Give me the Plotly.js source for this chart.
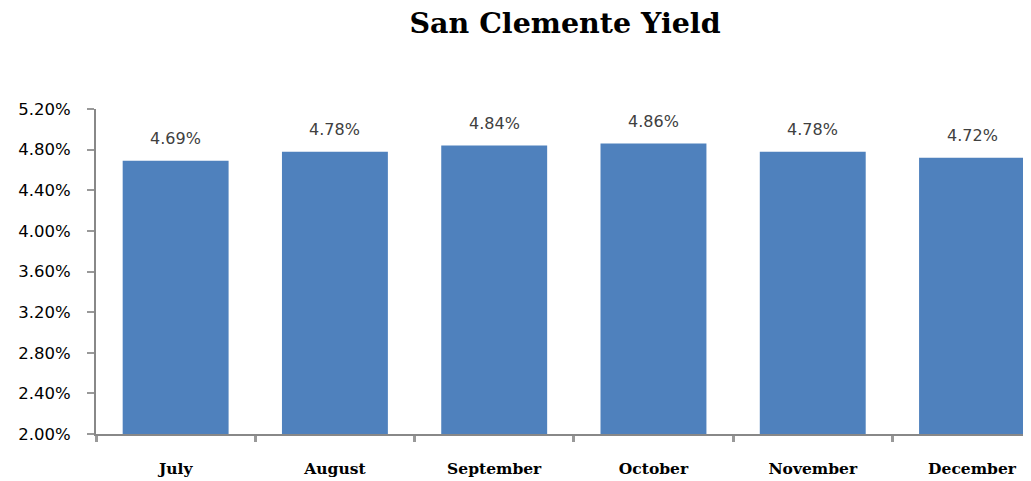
<!DOCTYPE html>
<html>
<head>
<meta charset="utf-8">
<script src="https://cdn.plot.ly/plotly-3.0.1.min.js"></script>
<style>html,body{margin:0;padding:0;background:#fff;}#chart{width:1031px;height:481px;}</style>
</head>
<body>
<div id="chart"></div>
<script>
const months = ["July", "August", "September", "October", "November", "December"];
const yieldPct = [4.69, 4.78, 4.84, 4.86, 4.78, 4.72];
const yTicks = [2.0, 2.4, 2.8, 3.2, 3.6, 4.0, 4.4, 4.8, 5.2];

const trace = {
  type: "bar",
  x: months,
  y: yieldPct,
  marker: { color: "#4F81BD" },
  hoverinfo: "none"
};

const annotations = months.map((m, i) => ({
  x: m,
  y: yieldPct[i],
  xref: "x",
  yref: "y",
  text: yieldPct[i].toFixed(2) + "%",
  showarrow: false,
  yanchor: "bottom",
  yshift: 11,
  font: { family: "DejaVu Sans", size: 16, color: "#404040" }
}));

const layout = {
  width: 1031,
  height: 481,
  margin: { l: 96, r: 8, t: 109, b: 47 },
  paper_bgcolor: "#ffffff",
  plot_bgcolor: "#ffffff",
  showlegend: false,
  bargap: 0.335,
  title: {
    text: "San Clemente Yield",
    font: { family: "DejaVu Serif", size: 28.5, color: "#000000", weight: "bold" },
    x: 0.506,
    xref: "paper",
    xanchor: "center",
    y: 0.952,
    yref: "container",
    yanchor: "middle"
  },
  xaxis: {
    type: "category",
    range: [-0.5, 5.32],
    showgrid: false,
    zeroline: false,
    showline: true,
    linecolor: "#888888",
    linewidth: 2,
    ticks: "outside",
    tickson: "boundaries",
    ticklen: 6,
    tickwidth: 3,
    tickcolor: "#999999",
    ticklabelstandoff: 19,
    tickfont: { family: "DejaVu Serif", size: 15.5, color: "#000000", weight: "bold" },
    fixedrange: true
  },
  yaxis: {
    range: [2.0, 5.2],
    tickvals: yTicks,
    ticktext: yTicks.map(v => v.toFixed(2) + "%"),
    showgrid: false,
    zeroline: false,
    showline: true,
    linecolor: "#888888",
    linewidth: 2,
    ticks: "outside",
    ticklen: 7,
    tickwidth: 2,
    tickcolor: "#999999",
    ticklabelstandoff: 13,
    tickfont: { family: "DejaVu Sans", size: 16.5, color: "#000000" },
    fixedrange: true
  },
  annotations: annotations
};

Plotly.newPlot("chart", [trace], layout, { displayModeBar: false, staticPlot: true });
</script>
</body>
</html>
